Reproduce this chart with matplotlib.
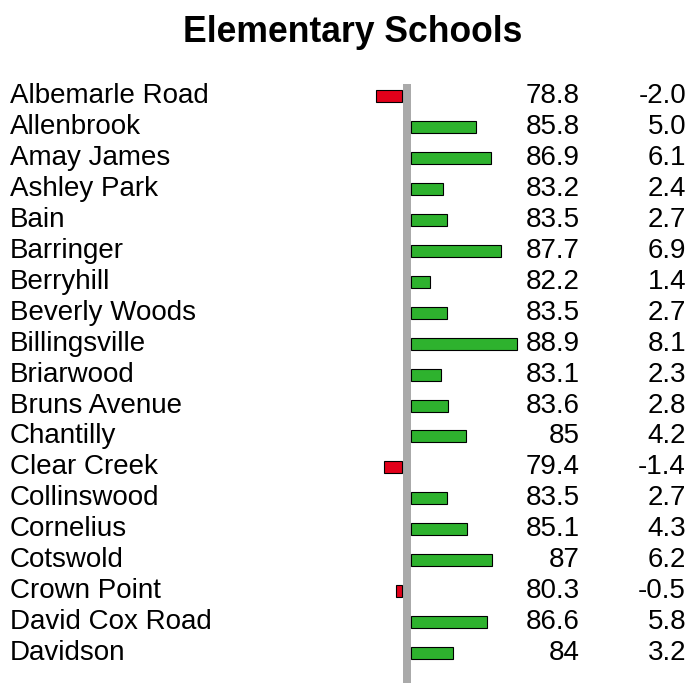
import numpy as np
import matplotlib
matplotlib.use('Agg')
import matplotlib.pyplot as plt

plt.rcParams['font.family'] = ['Liberation Sans', 'DejaVu Sans']

schools = ['Albemarle Road', 'Allenbrook', 'Amay James', 'Ashley Park', 'Bain',
           'Barringer', 'Berryhill', 'Beverly Woods', 'Billingsville', 'Briarwood',
           'Bruns Avenue', 'Chantilly', 'Clear Creek', 'Collinswood', 'Cornelius',
           'Cotswold', 'Crown Point', 'David Cox Road', 'Davidson']
scores = ['78.8', '85.8', '86.9', '83.2', '83.5', '87.7', '82.2', '83.5', '88.9',
          '83.1', '83.6', '85', '79.4', '83.5', '85.1', '87', '80.3', '86.6', '84']
diffs = [-2.0, 5.0, 6.1, 2.4, 2.7, 6.9, 1.4, 2.7, 8.1, 2.3, 2.8, 4.2, -1.4,
         2.7, 4.3, 6.2, -0.5, 5.8, 3.2]

W, H = 691, 683
fig = plt.figure(figsize=(W / 100, H / 100), dpi=100)
ax = fig.add_axes([0, 0, 1, 1])
ax.axis('off')

# pixel geometry
px_per_unit = 13.0
zero_px = 407
row_px = 30.95
first_bar_px = 96
ax.set_xlim(-zero_px / px_per_unit, (W - zero_px) / px_per_unit)
ax.set_ylim((H - first_bar_px) / row_px, -first_bar_px / row_px)

d = np.array(diffs)
y = np.arange(len(schools))
gap = 4.5 / px_per_unit
colors = np.where(d < 0, '#e2001a', '#2eb22e')
lefts = np.where(d < 0, -gap, gap)
ax.barh(y, d, left=lefts, height=12 / row_px, color=colors,
        edgecolor='black', linewidth=0.8, zorder=3)

# grey axis line
ax.vlines(0, -12 / row_px, (H - first_bar_px) / row_px, color='#aaaaaa',
          linewidth=8 * 0.72, zorder=2)

tr = ax.get_yaxis_transform()
base = 7 / row_px
for i, (name, s, dv) in enumerate(zip(schools, scores, diffs)):
    ax.text(10 / W, i + base, name, transform=tr, ha='left', va='baseline', fontsize=20)
    ax.text(580 / W, i + base, s, transform=tr, ha='right', va='baseline', fontsize=20)
    ax.text(686 / W, i + base, f'{dv:.1f}', transform=tr, ha='right', va='baseline', fontsize=20)

fig.text(353 / W, 1 - 42 / H, 'Elementary Schools', ha='center', va='baseline',
         fontsize=25.6, fontweight='bold')

fig.savefig('out.png', dpi=100)
